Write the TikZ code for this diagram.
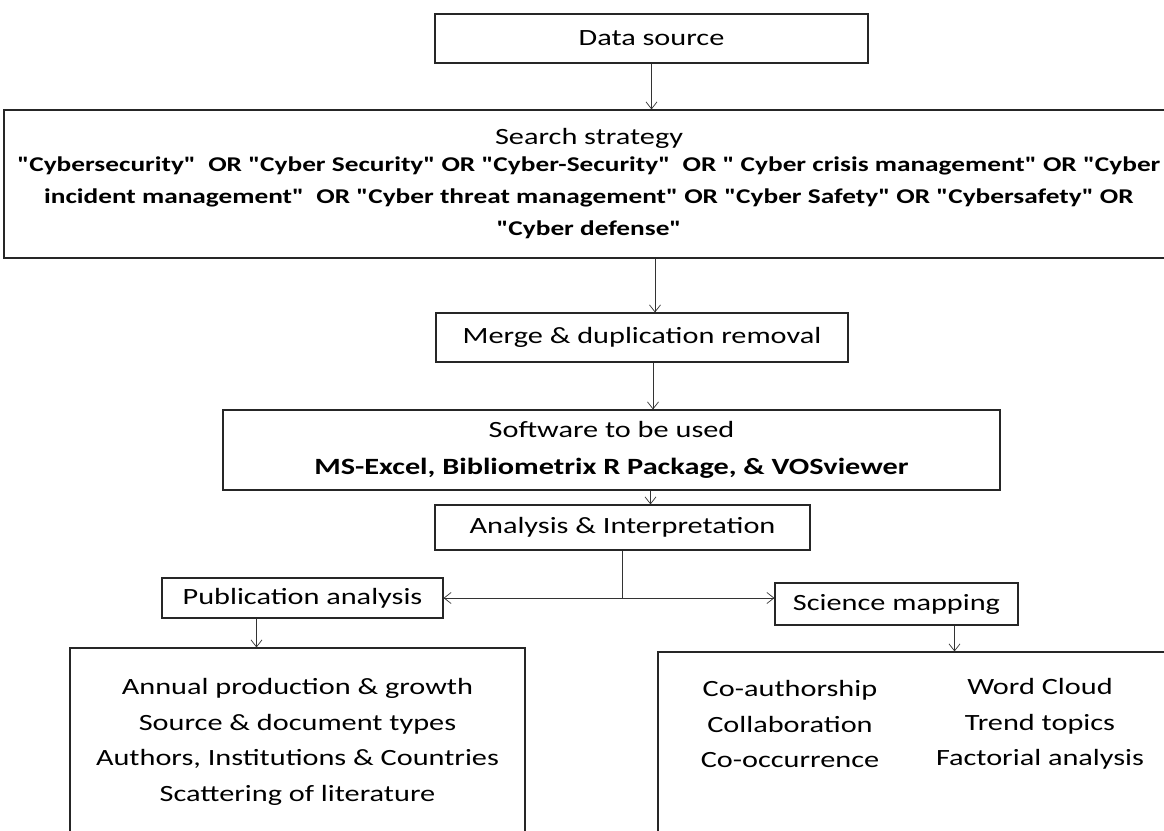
\documentclass[tikz,border=0pt]{standalone}
\usepackage{fontspec}
\setmainfont{Carlito}[FakeStretch=1.3,Ligatures=TeXOff]
\usetikzlibrary{arrows.meta}
\newcommand{\kw}[1]{{\fontsize{21}{32}\selectfont\bfseries #1}}

\begin{document}
\begin{tikzpicture}[x=1pt,y=-1pt,
    box/.style={draw=black!85,line width=1.1pt,inner sep=0pt,align=center,
      font=\fontsize{23.3}{32}\selectfont},
    txt/.style={align=center,inner sep=0pt,font=\fontsize{23.3}{35.5}\selectfont},
    arr/.style={-{Straight Barb[length=7pt,width=11pt]},line width=0.7pt,draw=black!80}]
  \clip (0,0) rectangle (1164,830);
  \fill[white] (0,0) rectangle (1164,830);

  \node[box,minimum width=433pt,minimum height=49pt] (src) at (651.5,38.5) {Data source};
  \node[box,minimum width=1170pt,minimum height=148pt] (search) at (589,184)
    {Search strategy\\[-5pt]
     \kw{"Cybersecurity"\ \ OR "Cyber Security" OR "Cyber-Security"\ \ OR " Cyber crisis management" OR "Cyber}\\
     \kw{incident management"\ \ OR "Cyber threat management" OR "Cyber Safety" OR "Cybersafety" OR}\\
     \kw{"Cyber defense"}};
  \node[box,minimum width=412pt,minimum height=49pt] (merge) at (642,337.5) {Merge \& duplication removal};
  \node[box,minimum width=777pt,minimum height=80pt,font=\fontsize{23.3}{37}\selectfont] (soft) at (611.5,450)
    {Software to be used\\ \textbf{MS-Excel, Bibliometrix R Package, \& VOSviewer}};
  \node[box,minimum width=375pt,minimum height=45pt] (ana) at (622.5,527.5) {Analysis \& Interpretation};
  \node[box,minimum width=281pt,minimum height=40pt] (pub) at (302.5,598) {Publication analysis};
  \node[box,minimum width=243pt,minimum height=42pt] (sci) at (896.5,604) {Science mapping};
  \node[box,minimum width=455pt,minimum height=192pt] (lbox) at (297.5,744) {};
  \node[box,minimum width=512pt,minimum height=188pt] (rbox) at (914,746) {};

  \node[txt] (pubtxt) at (297.5,742) {Annual production \& growth\\ Source \& document types\\
    Authors, Institutions \& Countries\\ Scattering of literature};
  \node[txt] (scitxtA) at (790,724) {Co-authorship\\ Collaboration\\ Co-occurrence};
  \node[txt] (scitxtB) at (1040,724) {Word Cloud\\ Trend topics\\ Factorial analysis};

  \draw[arr] (src.south) -- (src.south |- search.north);
  \draw[arr] ([xshift=13pt]merge.north |- search.south) -- ([xshift=13pt]merge.north);
  \draw[arr] ([xshift=11pt]merge.south) -- ([xshift=11pt]merge.south |- soft.north);
  \draw[arr] ([xshift=28pt]ana.north |- soft.south) -- ([xshift=28pt]ana.north);
  \draw[line width=0.7pt,black!80] (ana.south) -- (ana.south |- pub.east) coordinate (split);
  \draw[arr] (split) -- (pub.east);
  \draw[arr] (split) -- (sci.west |- split);
  \draw[arr] ([xshift=-46pt]pub.south) -- ([xshift=-46pt]pub.south |- lbox.north);
  \draw[arr] ([xshift=58pt]sci.south) -- ([xshift=58pt]sci.south |- rbox.north);
\end{tikzpicture}
\end{document}
